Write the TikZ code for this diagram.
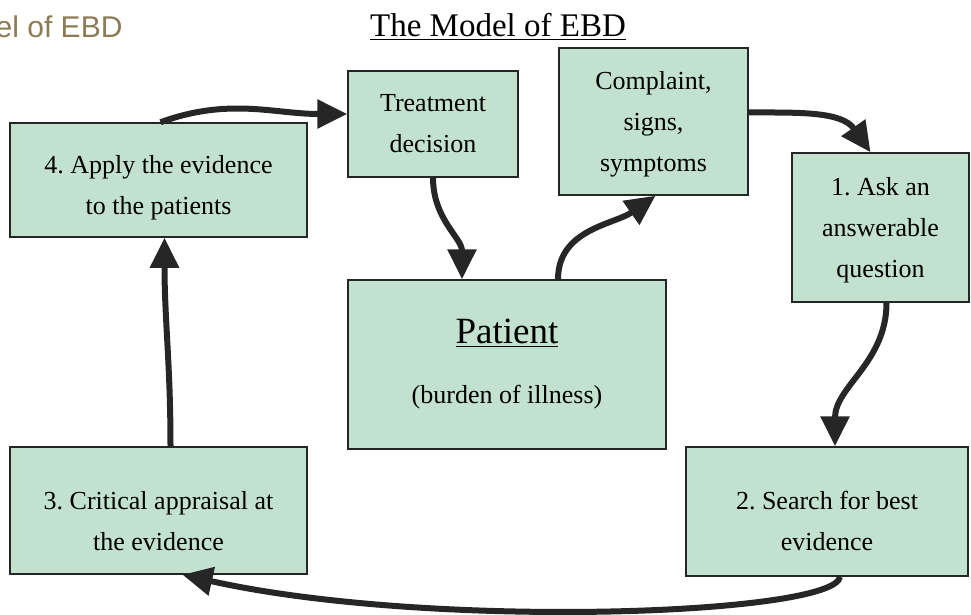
\documentclass[tikz,border=0pt]{standalone}
\usepackage{fontspec}
\setmainfont{Liberation Serif}
\newfontfamily\headfont{Liberation Sans}
\usetikzlibrary{positioning,arrows.meta}
\definecolor{boxgreen}{HTML}{C2E1CE}
\definecolor{linegray}{HTML}{262626}
\definecolor{headbrown}{HTML}{8C7B55}
\newcommand{\topgap}[1]{\rule{0pt}{#1}}
\frenchspacing

\begin{document}
\begin{tikzpicture}[x=1pt,y=1pt,>={Triangle[length=30pt,width=28pt]},
		stepbox/.style={draw=linegray,line width=1.5pt,fill=boxgreen,align=center,inner sep=0pt,font=\fontsize{26}{41}\selectfont},
		flow/.style={->,line width=6pt,draw=linegray}]
			
			\useasboundingbox (0,0) rectangle (971,-615);
			
			% headings
			\node[anchor=base east,text=headbrown,font=\headfont\fontsize{30}{34}\selectfont] (head) at (126,-38){Model of EBD};
			
			\node[anchor=base,font=\fontsize{33}{36}\selectfont] (title) at (498,-37){\underline{The Model of EBD}};
			
			% boxes
			\node[stepbox,minimum width=297,minimum height=114] (apply) at (158.5,-180){\topgap{34pt}4. Apply the evidence\\to the patients};
			
			\node[stepbox,minimum width=170,minimum height=106] (treat) at (433,-124){Treatment\\decision};
			
			\node[stepbox,minimum width=189,minimum height=147] (complaint) at (653.5,-121.5){\topgap{24pt}Complaint,\\signs,\\symptoms};
			
			\node[stepbox,minimum width=177,minimum height=149] (ask) at (880.5,-227.5){\topgap{24pt}1. Ask an\\answerable\\question};
			
			\node[stepbox,minimum width=318,minimum height=169] (patient) at (507,-364.5){{\fontsize{37}{40}\selectfont\underline{Patient}}\\[19pt](burden of illness)};
			
			\node[stepbox,minimum width=297,minimum height=127] (appraise) at (158.5,-510.5){\topgap{40pt}3. Critical appraisal at\\the evidence};
			
			\node[stepbox,minimum width=282,minimum height=129] (search) at (827,-511.5){\topgap{38pt}2. Search for best\\evidence};
			
			% arrows
			\draw[flow] ([xshift=2pt]apply.north) to[out=20,in=180] ([yshift=10pt]treat.west);
			
			\draw[flow] (treat.south) to[out=-90,in=90] ([xshift=-45pt]patient.north);
			
			\draw[flow] ([xshift=51pt]patient.north) to[out=90,in=215] ([xshift=2pt]complaint.south);
			
			\draw[flow] ([yshift=9pt]complaint.east) to[out=0,in=125] ([xshift=-10pt]ask.north);
			
			\draw[flow] ([xshift=6pt]ask.south) to[out=-90,in=90] ([xshift=8pt]search.north);
			
			\draw[flow] ([xshift=13pt]search.south) .. controls (835,-615) and (430,-630) .. ([xshift=24pt]appraise.south);
			
			\draw[flow] ([xshift=12pt]appraise.north) to[out=90,in=-90] ([xshift=6pt]apply.south);
			
		\end{tikzpicture}
\end{document}
